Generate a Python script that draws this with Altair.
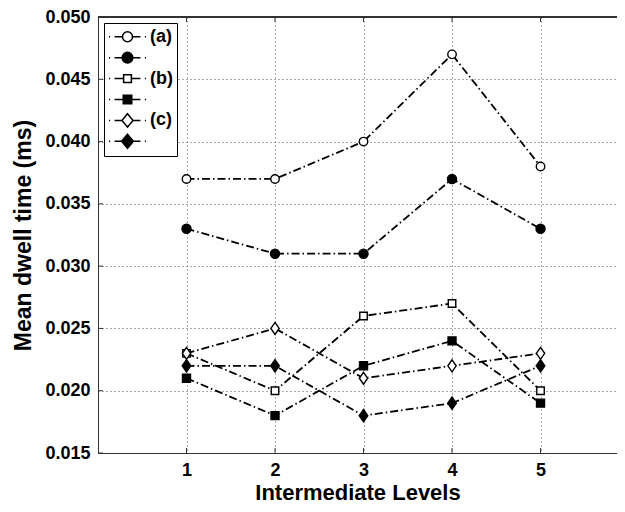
import altair as alt
import pandas as pd

# ---- data ----
levels = [1, 2, 3, 4, 5]
series_ids = ["a1", "a2", "b1", "b2", "c1", "c2"]
a_open = [0.037, 0.037, 0.040, 0.047, 0.038]
a_filled = [0.033, 0.031, 0.031, 0.037, 0.033]
b_open = [0.023, 0.020, 0.026, 0.027, 0.020]
b_filled = [0.021, 0.018, 0.022, 0.024, 0.019]
c_open = [0.023, 0.025, 0.021, 0.022, 0.023]
c_filled = [0.022, 0.022, 0.018, 0.019, 0.022]
legend_labels = ["(a)", "", "(b)", "", "(c)", ""]
x_ticks = [1, 2, 3, 4, 5]
y_ticks = [0.015, 0.020, 0.025, 0.030, 0.035, 0.040, 0.045, 0.050]
x_title = "Intermediate Levels"
y_title = "Mean dwell time (ms)"

values = [a_open, a_filled, b_open, b_filled, c_open, c_filled]

# ---- styles ----
DIAMOND = "M0,-1.15L0.8,0L0,1.15L-0.8,0Z"
marker_shape = ["circle", "circle", "square", "square", DIAMOND, DIAMOND]
marker_fill = ["white", "black", "white", "black", "white", "black"]
marker_size = [72, 82, 56, 64, 108, 116]

def leg_path(marker, e):
    line = f"M-1,0L-0.94,0M-0.7,0L-{e},0M{e},0L0.7,0M0.94,0L1,0"
    return line + marker

leg_paths = [
    leg_path("M0.27,0A0.27,0.27,0,1,1,-0.27,0A0.27,0.27,0,1,1,0.27,0Z", 0.27),
    leg_path("M0.29,0A0.29,0.29,0,1,1,-0.29,0A0.29,0.29,0,1,1,0.29,0Z", 0.29),
    leg_path("M-0.21,-0.21L0.21,-0.21L0.21,0.21L-0.21,0.21Z", 0.21),
    leg_path("M-0.23,-0.23L0.23,-0.23L0.23,0.23L-0.23,0.23Z", 0.23),
    leg_path("M0,-0.36L0.3,0L0,0.36L-0.3,0Z", 0.3),
    leg_path("M0,-0.38L0.32,0L0,0.38L-0.32,0Z", 0.32),
]

rows = []
for i, sid in enumerate(series_ids):
    for lv, v in zip(levels, values[i]):
        rows.append({"level": lv, "value": v, "series": sid,
                     "shp": marker_shape[i], "fillc": marker_fill[i],
                     "sz": marker_size[i]})
df = pd.DataFrame(rows)

FONT = "Liberation Sans"
x_scale = alt.Scale(domain=[0, 5.864], nice=False, zero=False)
y_scale = alt.Scale(domain=[0.015, 0.050], nice=False, zero=False)

X = alt.X("level:Q", scale=x_scale,
          axis=alt.Axis(values=x_ticks, format="d", title=x_title,
                        labelPadding=8, titlePadding=3, titleFontSize=22))
Y = alt.Y("value:Q", scale=y_scale,
          axis=alt.Axis(values=y_ticks, format=".3f", title=y_title,
                        labelPadding=8, titlePadding=9, titleFontSize=23))

lines = alt.Chart(df).mark_line(
    color="black", strokeWidth=1.8, strokeDash=[8, 3, 1.5, 3]
).encode(x=X, y=Y, detail="series:N")

points = alt.Chart(df).mark_point(
    filled=True, opacity=1, stroke="black", strokeWidth=1.4
).encode(
    x=X, y=Y,
    shape=alt.Shape("shp:N", scale=None),
    fill=alt.Fill("fillc:N", scale=None),
    size=alt.Size("sz:Q", scale=None),
)

label_expr = " : ".join(
    f"datum.value == '{s}' ? '{l}\u00a0\u00a0\u00a0'" for s, l in zip(series_ids, legend_labels)
) + " : ''"

leg = alt.Legend(
    title=None, orient="top-left", offset=6, labelExpr=label_expr,
    labelFont=FONT, labelFontSize=18, labelFontWeight="bold", labelColor="black",
    labelOffset=3, symbolSize=1369, symbolStrokeColor="black", symbolStrokeWidth=1.5,
    clipHeight=19.6, rowPadding=0.9, padding=4, strokeColor="black", fillColor="white",
)

legend_layer = alt.Chart(df).transform_filter("false").mark_point(
    filled=True, opacity=1, stroke="black", strokeWidth=1.5, size=1369
).encode(
    x=X, y=Y,
    shape=alt.Shape("series:N", scale=alt.Scale(domain=series_ids, range=leg_paths), legend=leg),
    fill=alt.Fill("series:N", scale=alt.Scale(domain=series_ids, range=marker_fill), legend=leg),
)

top_border = alt.Chart(df).mark_rule(color="#333", strokeWidth=1).encode(
    y=alt.datum(y_ticks[-1])
)

ytick_df = pd.DataFrame({"t": y_ticks})
left_ticks = alt.Chart(ytick_df).mark_rule(color="#333", strokeWidth=1).encode(
    x=alt.datum(0), x2=alt.datum(0.056), y="t:Q"
)
xtick_df = pd.DataFrame({"t": x_ticks})
bottom_ticks = alt.Chart(xtick_df).mark_rule(color="#333", strokeWidth=1).encode(
    x="t:Q", y=alt.datum(y_ticks[0]), y2=alt.datum(y_ticks[0] + 0.0004)
)
top_ticks = alt.Chart(xtick_df).mark_rule(color="#333", strokeWidth=1).encode(
    x="t:Q", y=alt.datum(y_ticks[-1] - 0.0004), y2=alt.datum(y_ticks[-1])
)

chart = alt.layer(
    lines, points, legend_layer, top_border, left_ticks, bottom_ticks, top_ticks
).properties(
    width=519, height=436,
    autosize=alt.AutoSizeParams(type="none"),
    padding={"left": 90, "top": 9, "right": 0, "bottom": 51},
).configure_view(stroke=None).configure_axis(
    domainColor="#333", domainWidth=1,
    grid=True, gridColor="#555", gridDash=[1, 3], gridWidth=1, gridOpacity=1,
    ticks=False,
    labelFont=FONT, labelFontSize=18, labelFontWeight="bold", labelColor="black",
    titleFont=FONT, titleFontSize=22, titleFontWeight="bold", titleColor="black",
)

chart.save("out.html", embed_options={"renderer": "svg", "actions": False})
